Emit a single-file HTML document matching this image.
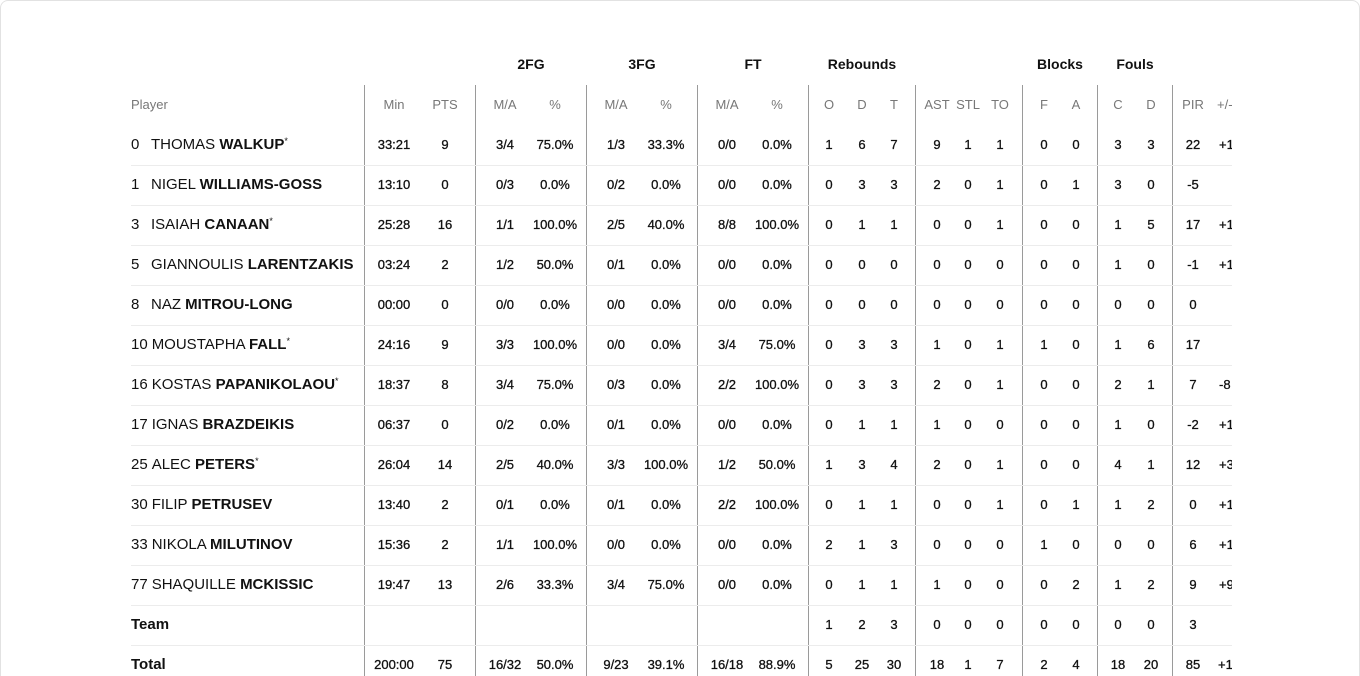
<!DOCTYPE html>
<html><head><meta charset="utf-8"><style>
*{margin:0;padding:0;box-sizing:border-box}
html,body{width:1360px;height:676px;overflow:hidden}
body{background:#fff;font-family:"Liberation Sans",sans-serif;color:#111;position:relative}
.card{position:absolute;left:0;top:0;width:1360px;height:676px;border:1px solid #e2e2e2;border-bottom:none;border-radius:8px 8px 0 0}
.clip{position:absolute;left:131px;top:1px;width:1101px;height:675px;overflow:hidden}
.vl{position:absolute;top:84px;height:600px;width:1px;background:#9a9a9a}
.hl{position:absolute;left:0;width:1101px;height:1px;background:#ececec}
.r{position:absolute;left:0;width:1101px;height:20px}
.r span{position:absolute;top:0;line-height:20px;transform:translateX(-50%);white-space:nowrap;font-size:13px;-webkit-text-stroke:0.3px #111}
.r span.pm{transform:none}
.r .nm{position:absolute;left:0;top:0;height:20px;line-height:20px;font-size:15px;white-space:nowrap;color:#111}
.nm i{font-style:normal;display:inline-block;min-width:16px;margin-right:4px}
.nm b{font-weight:bold}
.nm sup{font-size:9px;line-height:0;position:relative;top:-5px;vertical-align:baseline}
.hd span{color:#777;-webkit-text-stroke:0}
.grp span{font-weight:bold;font-size:14px;-webkit-text-stroke:0;color:#111}
</style></head><body>
<div class="card"></div>
<div class="clip">
<div class="vl" style="left:233px"></div><div class="vl" style="left:344px"></div><div class="vl" style="left:455px"></div><div class="vl" style="left:566px"></div><div class="vl" style="left:677px"></div><div class="vl" style="left:784px"></div><div class="vl" style="left:891px"></div><div class="vl" style="left:966px"></div><div class="vl" style="left:1041px"></div>
<div class="hl" style="top:164px"></div><div class="hl" style="top:204px"></div><div class="hl" style="top:244px"></div><div class="hl" style="top:284px"></div><div class="hl" style="top:324px"></div><div class="hl" style="top:364px"></div><div class="hl" style="top:404px"></div><div class="hl" style="top:444px"></div><div class="hl" style="top:484px"></div><div class="hl" style="top:524px"></div><div class="hl" style="top:564px"></div><div class="hl" style="top:604px"></div><div class="hl" style="top:644px"></div>

<div class="r grp" style="top:53px"><span style="left:400px">2FG</span><span style="left:511px">3FG</span><span style="left:622px">FT</span><span style="left:731px">Rebounds</span><span style="left:929px">Blocks</span><span style="left:1004px">Fouls</span></div>
<div class="r hd" style="top:94px"><span style="left:0;transform:none">Player</span><span style="left:263px">Min</span><span style="left:314px">PTS</span><span style="left:374px">M/A</span><span style="left:424px">%</span><span style="left:485px">M/A</span><span style="left:535px">%</span><span style="left:596px">M/A</span><span style="left:646px">%</span><span style="left:698px">O</span><span style="left:731px">D</span><span style="left:763px">T</span><span style="left:806px">AST</span><span style="left:837px">STL</span><span style="left:869px">TO</span><span style="left:913px">F</span><span style="left:945px">A</span><span style="left:987px">C</span><span style="left:1020px">D</span><span style="left:1062px">PIR</span><span class="pm" style="left:1086px">+/-</span></div>

<div class="r" style="top:134px"><div class="nm"><i>0</i>THOMAS <b>WALKUP</b><sup>*</sup></div><span style="left:263px">33:21</span><span style="left:314px">9</span><span style="left:374px">3/4</span><span style="left:424px">75.0%</span><span style="left:485px">1/3</span><span style="left:535px">33.3%</span><span style="left:596px">0/0</span><span style="left:646px">0.0%</span><span style="left:698px">1</span><span style="left:731px">6</span><span style="left:763px">7</span><span style="left:806px">9</span><span style="left:837px">1</span><span style="left:869px">1</span><span style="left:913px">0</span><span style="left:945px">0</span><span style="left:987px">3</span><span style="left:1020px">3</span><span style="left:1062px">22</span><span class="pm" style="left:1088px">+1</span></div>
<div class="r" style="top:174px"><div class="nm"><i>1</i>NIGEL <b>WILLIAMS-GOSS</b></div><span style="left:263px">13:10</span><span style="left:314px">0</span><span style="left:374px">0/3</span><span style="left:424px">0.0%</span><span style="left:485px">0/2</span><span style="left:535px">0.0%</span><span style="left:596px">0/0</span><span style="left:646px">0.0%</span><span style="left:698px">0</span><span style="left:731px">3</span><span style="left:763px">3</span><span style="left:806px">2</span><span style="left:837px">0</span><span style="left:869px">1</span><span style="left:913px">0</span><span style="left:945px">1</span><span style="left:987px">3</span><span style="left:1020px">0</span><span style="left:1062px">-5</span></div>
<div class="r" style="top:214px"><div class="nm"><i>3</i>ISAIAH <b>CANAAN</b><sup>*</sup></div><span style="left:263px">25:28</span><span style="left:314px">16</span><span style="left:374px">1/1</span><span style="left:424px">100.0%</span><span style="left:485px">2/5</span><span style="left:535px">40.0%</span><span style="left:596px">8/8</span><span style="left:646px">100.0%</span><span style="left:698px">0</span><span style="left:731px">1</span><span style="left:763px">1</span><span style="left:806px">0</span><span style="left:837px">0</span><span style="left:869px">1</span><span style="left:913px">0</span><span style="left:945px">0</span><span style="left:987px">1</span><span style="left:1020px">5</span><span style="left:1062px">17</span><span class="pm" style="left:1088px">+1</span></div>
<div class="r" style="top:254px"><div class="nm"><i>5</i>GIANNOULIS <b>LARENTZAKIS</b></div><span style="left:263px">03:24</span><span style="left:314px">2</span><span style="left:374px">1/2</span><span style="left:424px">50.0%</span><span style="left:485px">0/1</span><span style="left:535px">0.0%</span><span style="left:596px">0/0</span><span style="left:646px">0.0%</span><span style="left:698px">0</span><span style="left:731px">0</span><span style="left:763px">0</span><span style="left:806px">0</span><span style="left:837px">0</span><span style="left:869px">0</span><span style="left:913px">0</span><span style="left:945px">0</span><span style="left:987px">1</span><span style="left:1020px">0</span><span style="left:1062px">-1</span><span class="pm" style="left:1088px">+1</span></div>
<div class="r" style="top:294px"><div class="nm"><i>8</i>NAZ <b>MITROU-LONG</b></div><span style="left:263px">00:00</span><span style="left:314px">0</span><span style="left:374px">0/0</span><span style="left:424px">0.0%</span><span style="left:485px">0/0</span><span style="left:535px">0.0%</span><span style="left:596px">0/0</span><span style="left:646px">0.0%</span><span style="left:698px">0</span><span style="left:731px">0</span><span style="left:763px">0</span><span style="left:806px">0</span><span style="left:837px">0</span><span style="left:869px">0</span><span style="left:913px">0</span><span style="left:945px">0</span><span style="left:987px">0</span><span style="left:1020px">0</span><span style="left:1062px">0</span></div>
<div class="r" style="top:334px"><div class="nm"><i>10</i>MOUSTAPHA <b>FALL</b><sup>*</sup></div><span style="left:263px">24:16</span><span style="left:314px">9</span><span style="left:374px">3/3</span><span style="left:424px">100.0%</span><span style="left:485px">0/0</span><span style="left:535px">0.0%</span><span style="left:596px">3/4</span><span style="left:646px">75.0%</span><span style="left:698px">0</span><span style="left:731px">3</span><span style="left:763px">3</span><span style="left:806px">1</span><span style="left:837px">0</span><span style="left:869px">1</span><span style="left:913px">1</span><span style="left:945px">0</span><span style="left:987px">1</span><span style="left:1020px">6</span><span style="left:1062px">17</span></div>
<div class="r" style="top:374px"><div class="nm"><i>16</i>KOSTAS <b>PAPANIKOLAOU</b><sup>*</sup></div><span style="left:263px">18:37</span><span style="left:314px">8</span><span style="left:374px">3/4</span><span style="left:424px">75.0%</span><span style="left:485px">0/3</span><span style="left:535px">0.0%</span><span style="left:596px">2/2</span><span style="left:646px">100.0%</span><span style="left:698px">0</span><span style="left:731px">3</span><span style="left:763px">3</span><span style="left:806px">2</span><span style="left:837px">0</span><span style="left:869px">1</span><span style="left:913px">0</span><span style="left:945px">0</span><span style="left:987px">2</span><span style="left:1020px">1</span><span style="left:1062px">7</span><span class="pm" style="left:1088px">-8</span></div>
<div class="r" style="top:414px"><div class="nm"><i>17</i>IGNAS <b>BRAZDEIKIS</b></div><span style="left:263px">06:37</span><span style="left:314px">0</span><span style="left:374px">0/2</span><span style="left:424px">0.0%</span><span style="left:485px">0/1</span><span style="left:535px">0.0%</span><span style="left:596px">0/0</span><span style="left:646px">0.0%</span><span style="left:698px">0</span><span style="left:731px">1</span><span style="left:763px">1</span><span style="left:806px">1</span><span style="left:837px">0</span><span style="left:869px">0</span><span style="left:913px">0</span><span style="left:945px">0</span><span style="left:987px">1</span><span style="left:1020px">0</span><span style="left:1062px">-2</span><span class="pm" style="left:1088px">+1</span></div>
<div class="r" style="top:454px"><div class="nm"><i>25</i>ALEC <b>PETERS</b><sup>*</sup></div><span style="left:263px">26:04</span><span style="left:314px">14</span><span style="left:374px">2/5</span><span style="left:424px">40.0%</span><span style="left:485px">3/3</span><span style="left:535px">100.0%</span><span style="left:596px">1/2</span><span style="left:646px">50.0%</span><span style="left:698px">1</span><span style="left:731px">3</span><span style="left:763px">4</span><span style="left:806px">2</span><span style="left:837px">0</span><span style="left:869px">1</span><span style="left:913px">0</span><span style="left:945px">0</span><span style="left:987px">4</span><span style="left:1020px">1</span><span style="left:1062px">12</span><span class="pm" style="left:1088px">+3</span></div>
<div class="r" style="top:494px"><div class="nm"><i>30</i>FILIP <b>PETRUSEV</b></div><span style="left:263px">13:40</span><span style="left:314px">2</span><span style="left:374px">0/1</span><span style="left:424px">0.0%</span><span style="left:485px">0/1</span><span style="left:535px">0.0%</span><span style="left:596px">2/2</span><span style="left:646px">100.0%</span><span style="left:698px">0</span><span style="left:731px">1</span><span style="left:763px">1</span><span style="left:806px">0</span><span style="left:837px">0</span><span style="left:869px">1</span><span style="left:913px">0</span><span style="left:945px">1</span><span style="left:987px">1</span><span style="left:1020px">2</span><span style="left:1062px">0</span><span class="pm" style="left:1088px">+1</span></div>
<div class="r" style="top:534px"><div class="nm"><i>33</i>NIKOLA <b>MILUTINOV</b></div><span style="left:263px">15:36</span><span style="left:314px">2</span><span style="left:374px">1/1</span><span style="left:424px">100.0%</span><span style="left:485px">0/0</span><span style="left:535px">0.0%</span><span style="left:596px">0/0</span><span style="left:646px">0.0%</span><span style="left:698px">2</span><span style="left:731px">1</span><span style="left:763px">3</span><span style="left:806px">0</span><span style="left:837px">0</span><span style="left:869px">0</span><span style="left:913px">1</span><span style="left:945px">0</span><span style="left:987px">0</span><span style="left:1020px">0</span><span style="left:1062px">6</span><span class="pm" style="left:1088px">+1</span></div>
<div class="r" style="top:574px"><div class="nm"><i>77</i>SHAQUILLE <b>MCKISSIC</b></div><span style="left:263px">19:47</span><span style="left:314px">13</span><span style="left:374px">2/6</span><span style="left:424px">33.3%</span><span style="left:485px">3/4</span><span style="left:535px">75.0%</span><span style="left:596px">0/0</span><span style="left:646px">0.0%</span><span style="left:698px">0</span><span style="left:731px">1</span><span style="left:763px">1</span><span style="left:806px">1</span><span style="left:837px">0</span><span style="left:869px">0</span><span style="left:913px">0</span><span style="left:945px">2</span><span style="left:987px">1</span><span style="left:1020px">2</span><span style="left:1062px">9</span><span class="pm" style="left:1088px">+9</span></div>
<div class="r" style="top:614px"><div class="nm"><b>Team</b></div><span style="left:698px">1</span><span style="left:731px">2</span><span style="left:763px">3</span><span style="left:806px">0</span><span style="left:837px">0</span><span style="left:869px">0</span><span style="left:913px">0</span><span style="left:945px">0</span><span style="left:987px">0</span><span style="left:1020px">0</span><span style="left:1062px">3</span></div>
<div class="r" style="top:654px"><div class="nm"><b>Total</b></div><span style="left:263px">200:00</span><span style="left:314px">75</span><span style="left:374px">16/32</span><span style="left:424px">50.0%</span><span style="left:485px">9/23</span><span style="left:535px">39.1%</span><span style="left:596px">16/18</span><span style="left:646px">88.9%</span><span style="left:698px">5</span><span style="left:731px">25</span><span style="left:763px">30</span><span style="left:806px">18</span><span style="left:837px">1</span><span style="left:869px">7</span><span style="left:913px">2</span><span style="left:945px">4</span><span style="left:987px">18</span><span style="left:1020px">20</span><span style="left:1062px">85</span><span class="pm" style="left:1087px">+10</span></div>
</div>
</body></html>
